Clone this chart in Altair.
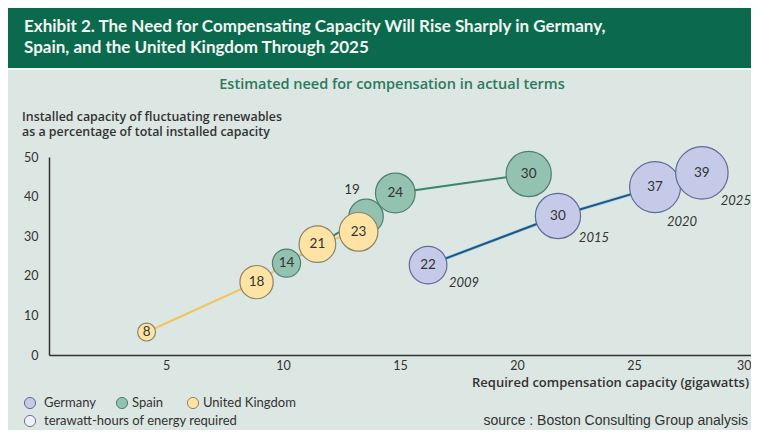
import altair as alt
import pandas as pd

# ---- data ----
countries = ["Germany", "Spain", "United Kingdom"]
germany_x = [16.2, 21.75, 25.9, 27.9]
germany_y = [22.7, 35.1, 42.4, 46.0]
germany_twh = [22, 30, 37, 39]
germany_years = ["2009", "2015", "2020", "2025"]

spain_x = [10.15, 13.55, 14.8, 20.5]
spain_y = [23.2, 35.0, 40.9, 45.7]
spain_twh = [14, 19, 24, 30]

uk_x = [4.17, 8.87, 11.47, 13.23]
uk_y = [5.8, 18.4, 28.0, 31.1]
uk_twh = [8, 18, 21, 23]

x_ticks = [5, 10, 15, 20, 25, 30]
y_ticks = [0, 10, 20, 30, 40, 50]

rows = []
for c, xs_, ys_, vs in [("Germany", germany_x, germany_y, germany_twh),
                        ("Spain", spain_x, spain_y, spain_twh),
                        ("United Kingdom", uk_x, uk_y, uk_twh)]:
    for i, (xv, yv, v) in enumerate(zip(xs_, ys_, vs)):
        rows.append({"country": c, "order": i, "x": xv, "y": yv, "twh": v,
                     "year": germany_years[i] if c == "Germany" else ""})
df = pd.DataFrame(rows)

fills = ["#c4cae8", "#93c2b0", "#fde3a4"]
strokes = ["#5d6e96", "#4e7f6f", "#8c8466"]
line_cols = ["#1f5683", "#3b8769", "#f1c55b"]

BG = "#dce6e2"
TXT = "#333333"
FONT = "Lato"
FONT2 = "Open Sans"

xs = alt.X("x:Q", scale=alt.Scale(domain=[0, 30]),
           axis=alt.Axis(values=x_ticks, title=None, ticks=False, grid=False,
                         domainColor=TXT, domainWidth=1.5, labelFont=FONT,
                         labelFontSize=12.5, labelColor=TXT, labelPadding=4,
                         labelFlush=True))
ys = alt.Y("y:Q", scale=alt.Scale(domain=[0, 50]),
           axis=alt.Axis(values=y_ticks, title=None, ticks=False, grid=False,
                         domainColor=TXT, domainWidth=1.5, labelFont=FONT,
                         labelFontSize=12.5, labelColor=TXT, labelPadding=11))

base = alt.Chart(df)

# lines
ger_halo = base.transform_filter(alt.datum.country == "Germany").mark_line(
    color="#a8d4ea", strokeWidth=3.5).encode(x=xs, y=ys, order="order:Q")
lines = base.mark_line(strokeWidth=2).encode(
    x=xs, y=ys, order="order:Q", detail="country:N",
    color=alt.Color("country:N", scale=alt.Scale(domain=countries, range=line_cols), legend=None))

bubbles = base.mark_circle(opacity=1, strokeWidth=1.2).encode(
    x=xs, y=ys,
    size=alt.Size("twh:Q", scale=alt.Scale(domain=[8, 39], range=[320, 2750], zero=False), legend=None),
    fill=alt.Fill("country:N", scale=alt.Scale(domain=countries, range=fills), legend=None),
    stroke=alt.Stroke("country:N", scale=alt.Scale(domain=countries, range=strokes), legend=None),
)

inside = base.transform_filter(alt.datum.twh != 19).mark_text(
    font=FONT, fontSize=13.5, color=TXT, baseline="middle").encode(x=xs, y=ys, text="twh:Q")
outside19 = base.transform_filter(alt.datum.twh == 19).mark_text(
    font=FONT, fontSize=13.5, color=TXT, baseline="middle", dx=-14, dy=-26).encode(x=xs, y=ys, text="twh:Q")

year_offsets = {"2009": (36, 18), "2015": (36, 22), "2020": (27, 35), "2025": (34, 28)}
year_layers = []
for yr, (ddx, ddy) in year_offsets.items():
    year_layers.append(base.transform_filter(alt.datum.year == yr).mark_text(
        font=FONT, fontSize=13, fontStyle="italic", color=TXT, baseline="middle",
        dx=ddx, dy=ddy).encode(x=xs, y=ys, text="year:N"))

# ---- decorations (pixel positions relative to plot origin) ----
dummy = alt.Chart(pd.DataFrame({"k": [0]}))

def txt(s, x, y, size, weight="normal", color=TXT, align="left", baseline="alphabetic", font=FONT, style="normal"):
    return dummy.mark_text(text=s, font=font, fontSize=size, fontWeight=weight, color=color,
                           align=align, baseline=baseline, fontStyle=style).encode(
        x=alt.value(x), y=alt.value(y))

header = dummy.mark_rect(color="#0b6a4d").encode(
    x=alt.value(-45), x2=alt.value(712), y=alt.value(-151), y2=alt.value(-89))
strip = dummy.mark_rect(color="#eef3f0").encode(
    x=alt.value(-45), x2=alt.value(712), y=alt.value(-89), y2=alt.value(-87))

title1 = txt("Exhibit 2. The Need for Compensating Capacity Will Rise Sharply in Germany,", -25, -125, 17, "bold", "#f2f5f2")
title2 = txt("Spain, and the United Kingdom Through 2025", -25, -104, 17, "bold", "#f2f5f2")
subtitle = txt("Estimated need for compensation in actual terms", 343, -68, 14.5, 600, "#2b7a5c", align="center", font=FONT2)
ytitle1 = txt("Installed capacity of fluctuating renewables", -27, -36, 12.4, 600, TXT, font=FONT2)
ytitle2 = txt("as a percentage of total installed capacity", -27, -21, 12.4, 600, TXT, font=FONT2)
xtitle = txt("Required compensation capacity (gigawatts)", 700, 226, 13, 600, TXT, align="right", baseline="middle", font=FONT2)
source = txt("source : Boston Consulting Group analysis", 699, 264, 14, "normal", TXT, align="right",
             baseline="middle", font="Liberation Sans")

legend_layers = []
for (name, cx, tx), f, s in zip([("Germany", -19, -5), ("Spain", 73, 83), ("United Kingdom", 144, 154)], fills, strokes):
    legend_layers.append(dummy.mark_circle(size=125, fill=f, stroke=s, strokeWidth=1, opacity=1).encode(
        x=alt.value(cx), y=alt.value(246)))
    legend_layers.append(txt(name, tx, 246, 13, baseline="middle"))
legend_layers.append(dummy.mark_circle(size=125, fill="#eef1f8", stroke="#6d7890", strokeWidth=1, opacity=1).encode(
    x=alt.value(-19), y=alt.value(264)))
legend_layers.append(txt("terawatt-hours of energy required", -5, 264, 13, baseline="middle"))

chart = alt.layer(
    header, strip, title1, title2, subtitle, ytitle1, ytitle2,
    ger_halo, lines, bubbles, inside, outside19, *year_layers,
    xtitle, source, *legend_layers,
).properties(
    width=702, height=198,
    padding={"left": 41, "top": 149, "right": 0, "bottom": 75},
    autosize=alt.AutoSizeParams(type="none"),
    background=BG,
).configure_view(stroke="transparent")

chart.save("out.html", embed_options={"renderer": "svg", "actions": False})
